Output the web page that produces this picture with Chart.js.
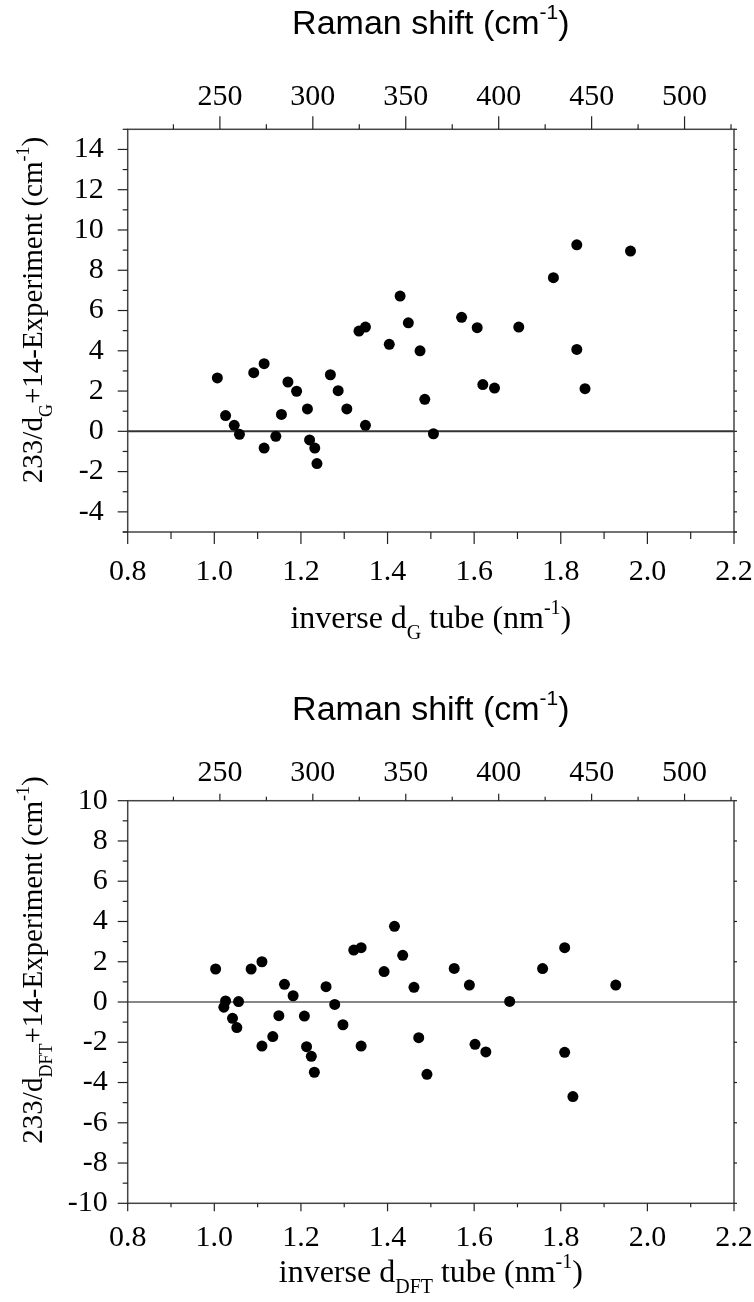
<!DOCTYPE html>
<html>
<head>
<meta charset="utf-8">
<script src="https://cdn.jsdelivr.net/npm/chart.js@4.4.1/dist/chart.umd.min.js"></script>
<style>
  html, body { margin: 0; padding: 0; background: #fff; }
  .panel { position: relative; width: 754px; height: 651px; }
  canvas { display: block; }
</style>
</head>
<body>
<div class="panel"><canvas id="chartG" width="754" height="651"></canvas></div>
<div class="panel"><canvas id="chartDFT" width="754" height="651"></canvas></div>
<script>
/* ---- data: inverse tube diameter (nm^-1) vs. 233/d+14 - experiment (cm^-1) ---- */
const invDG = [1.007, 1.026, 1.046, 1.058, 1.091, 1.115, 1.115, 1.142, 1.155, 1.170,
               1.190, 1.215, 1.220, 1.232, 1.237, 1.268, 1.286, 1.306, 1.334, 1.349,
               1.349, 1.404, 1.429, 1.448, 1.475, 1.486, 1.506, 1.571, 1.607, 1.620,
               1.647, 1.703, 1.783, 1.837, 1.837, 1.856, 1.961];
const devG  = [2.65, 0.78, 0.30, -0.15, 2.91, 3.36, -0.83, -0.25, 0.84, 2.45,
               1.99, 1.11, -0.43, -0.83, -1.60, 2.81, 2.02, 1.11, 4.98, 5.18,
               0.30, 4.32, 6.72, 5.39, 4.00, 1.59, -0.12, 5.66, 5.15, 2.32,
               2.15, 5.18, 7.63, 9.26, 4.07, 2.12, 8.95];

const invDFT = [1.003, 1.022, 1.026, 1.042, 1.052, 1.056, 1.085, 1.110, 1.110, 1.135,
                1.149, 1.162, 1.182, 1.208, 1.213, 1.224, 1.231, 1.258, 1.278, 1.297,
                1.322, 1.339, 1.339, 1.392, 1.416, 1.435, 1.461, 1.472, 1.491, 1.554,
                1.589, 1.602, 1.627, 1.682, 1.758, 1.809, 1.809, 1.828, 1.927];
const devDFT = [1.64, -0.26, 0.05, -0.81, -1.27, 0.02, 1.64, 2.00, -2.19, -1.72,
                -0.68, 0.88, 0.31, -0.70, -2.22, -2.70, -3.49, 0.76, -0.12, -1.13,
                2.58, 2.70, -2.19, 1.51, 3.76, 2.32, 0.73, -1.77, -3.59, 1.67,
                0.84, -2.10, -2.48, 0.03, 1.66, 2.70, -2.50, -4.70, 0.84];

/* ---- axes ---- */
const xTicks     = [0.8, 1.0, 1.2, 1.4, 1.6, 1.8, 2.0, 2.2];
const ramanTicks = [250, 300, 350, 400, 450, 500];
const yTicksG    = [-4, -2, 0, 2, 4, 6, 8, 10, 12, 14];
const yTicksDFT  = [-10, -8, -6, -4, -2, 0, 2, 4, 6, 8, 10];

const X_MIN = 0.8, X_MAX = 2.2;
const toRaman = v => 233 * v + 14;   // Raman shift for a given inverse diameter

const SERIF = "'Liberation Serif', 'Times New Roman', serif";
const SANS  = "'Liberation Sans', Arial, sans-serif";

// minor marks halfway between major ticks, clipped to the axis range
function minorsOf(majors, lo, hi) {
  const step = majors[1] - majors[0];
  const out = majors.map(v => v - step / 2).concat([majors[majors.length - 1] + step / 2]);
  return out.filter(v => v >= lo - 1e-9 && v <= hi + 1e-9);
}

function line(ctx, x1, y1, x2, y2) {
  ctx.beginPath(); ctx.moveTo(x1, y1); ctx.lineTo(x2, y2); ctx.stroke();
}

// text with sub/superscript pieces, centred on (cx, baseY), optionally rotated
function drawRich(ctx, parts, cx, baseY, size, family, rotate) {
  const fontOf = p => `${(p.sub || p.sup) ? Math.round(size * 0.62) : size}px ${family}`;
  let total = 0;
  const widths = parts.map(p => { ctx.font = fontOf(p); const w = ctx.measureText(p.t).width; total += w; return w; });
  ctx.save();
  ctx.translate(cx, baseY);
  if (rotate) ctx.rotate(-Math.PI / 2);
  ctx.fillStyle = '#000';
  ctx.textBaseline = 'alphabetic';
  ctx.textAlign = 'left';
  let x = -total / 2;
  parts.forEach((p, i) => {
    ctx.font = fontOf(p);
    const dy = p.sub ? size * 0.33 : p.sup ? -size * 0.45 : 0;
    ctx.fillText(p.t, x, dy);
    x += widths[i];
  });
  ctx.restore();
}

/* ---- frame, tick marks, zero line and titles ---- */
const framePlugin = {
  id: 'frame',
  beforeDatasetsDraw(chart, args, o) {
    const { ctx, chartArea: a, scales } = chart;
    const xs = scales.x, ys = scales.y, rs = scales.x2;
    ctx.save();

    // zero reference line
    ctx.strokeStyle = o.zeroColor;
    ctx.lineWidth = o.zeroWidth;
    const y0 = ys.getPixelForValue(0);
    line(ctx, a.left, y0, a.right, y0);

    // plot box
    ctx.strokeStyle = '#444';
    ctx.lineWidth = 1.5;
    ctx.strokeRect(a.left, a.top, a.right - a.left, a.bottom - a.top);

    ctx.lineWidth = 1.2;
    ctx.strokeStyle = '#222';
    // bottom axis
    o.xMajorVals.forEach(v => { const p = xs.getPixelForValue(v); line(ctx, p, a.bottom, p, a.bottom + o.xMajor); });
    o.xMinorVals.forEach(v => { const p = xs.getPixelForValue(v); line(ctx, p, a.bottom, p, a.bottom + o.xMinor); });
    // top (Raman) axis
    o.rMajorVals.forEach(v => { const p = rs.getPixelForValue(v); line(ctx, p, a.top, p, a.top - o.topMajor); });
    o.rMinorVals.forEach(v => { const p = rs.getPixelForValue(v); line(ctx, p, a.top, p, a.top - o.topMinor); });
    // left axis
    o.yMajorVals.forEach(v => { const p = ys.getPixelForValue(v); line(ctx, a.left, p, a.left - o.yMajor, p); });
    o.yMinorVals.forEach(v => { const p = ys.getPixelForValue(v); line(ctx, a.left, p, a.left - o.yMinor, p); });
    // right axis
    o.rightVals.forEach(v => { const p = ys.getPixelForValue(v); line(ctx, a.right, p, a.right + o.rightLen, p); });
    ctx.restore();
  },
  afterDraw(chart, args, o) {
    const { ctx, chartArea: a } = chart;
    const cx = (a.left + a.right) / 2;
    drawRich(ctx, [{ t: 'Raman shift (cm' }, { t: '-1', sup: true }, { t: ')' }], cx, o.ramanY, 34, SANS, false);
    drawRich(ctx, [{ t: 'inverse d' }, { t: o.sub, sub: true }, { t: ' tube (nm' }, { t: '-1', sup: true }, { t: ')' }],
             cx, o.xTitleY, 32, SERIF, false);
    drawRich(ctx, [{ t: '233/d' }, { t: o.sub, sub: true }, { t: '+14-Experiment (cm' }, { t: '-1', sup: true }, { t: ')' }],
             o.yTitleX, o.yTitleY, 29, SERIF, true);
  }
};

function makeChart(id, xs, ys, yTicks, yMin, yMax, d) {
  const tickFont = { family: SERIF, size: 30 };
  const noGrid = { display: false, drawTicks: false };
  const yMinor = minorsOf(yTicks, yMin, yMax);
  if (yMin < yTicks[0]) yMinor.unshift(yMin);
  // fixed axis boxes, no extra room for overhanging end labels
  const fixH = h => s => { s.height = h; s.paddingLeft = 0; s.paddingRight = 0; };
  return new Chart(document.getElementById(id), {
    type: 'scatter',
    data: {
      datasets: [{
        data: xs.map((x, i) => ({ x, y: ys[i] })),
        pointRadius: 5.5,
        pointHoverRadius: 5.5,
        backgroundColor: '#000',
        borderColor: '#000',
        borderWidth: 0
      }]
    },
    options: {
      responsive: false,
      animation: false,
      events: [],
      layout: { padding: { left: 0, right: 20, top: 0, bottom: 0 } },
      plugins: {
        legend: { display: false },
        tooltip: { enabled: false },
        frame: {
          sub: d.sub,
          zeroColor: d.zeroColor, zeroWidth: d.zeroWidth,
          xMajor: d.xMajor, xMinor: d.xMinor,
          topMajor: d.topMajor, topMinor: d.topMinor,
          yMajor: 10, yMinor: 5, rightLen: 3,
          xMajorVals: xTicks, xMinorVals: minorsOf(xTicks, X_MIN, X_MAX),
          rMajorVals: ramanTicks, rMinorVals: minorsOf(ramanTicks, toRaman(X_MIN), toRaman(X_MAX)),
          yMajorVals: yTicks, yMinorVals: yMinor,
          rightVals: d.rightMinor ? yTicks.concat(yMinor) : yTicks,
          ramanY: d.ramanY, xTitleY: d.xTitleY, yTitleX: 42, yTitleY: d.yTitleY
        }
      },
      scales: {
        x: {
          type: 'linear', position: 'bottom', min: X_MIN, max: X_MAX,
          afterBuildTicks: s => { s.ticks = xTicks.map(v => ({ value: v })); },
          afterFit: fixH(d.bottomH),
          ticks: { font: tickFont, color: '#000', padding: d.xPad, maxRotation: 0, autoSkip: false,
                   callback: v => v.toFixed(1) },
          grid: noGrid, border: { display: false }
        },
        x2: {
          type: 'linear', position: 'top', min: toRaman(X_MIN), max: toRaman(X_MAX),
          afterBuildTicks: s => { s.ticks = ramanTicks.map(v => ({ value: v })); },
          afterFit: fixH(d.topH),
          ticks: { font: tickFont, color: '#000', padding: d.rPad, maxRotation: 0, autoSkip: false,
                   callback: v => String(v) },
          grid: noGrid, border: { display: false }
        },
        y: {
          type: 'linear', position: 'left', min: yMin, max: yMax,
          afterBuildTicks: s => { s.ticks = yTicks.map(v => ({ value: v })); },
          afterFit: s => { s.width = 127.7; s.paddingTop = 0; s.paddingBottom = 0; },
          ticks: { font: tickFont, color: '#000', padding: d.yPad, autoSkip: false,
                   callback: v => String(v) },
          grid: noGrid, border: { display: false }
        }
      }
    },
    plugins: [framePlugin]
  });
}

makeChart('chartG', invDG, devG, yTicksG, -5, 15, {
  sub: 'G', zeroColor: '#333', zeroWidth: 2,
  xMajor: 12, xMinor: 7, topMajor: 13, topMinor: 5, rightMinor: true,
  topH: 129.3, bottomH: 119, xPad: 22, rPad: 14, yPad: 24,
  ramanY: 34, xTitleY: 628, yTitleY: 310
});

makeChart('chartDFT', invDFT, devDFT, yTicksDFT, -10, 10, {
  sub: 'DFT', zeroColor: '#111', zeroWidth: 1.2,
  xMajor: 8, xMinor: 4, topMajor: 7, topMinor: 4, rightMinor: false,
  topH: 149.7, bottomH: 98.7, xPad: 17, rPad: 10, yPad: 20,
  ramanY: 69, xTitleY: 631, yTitleY: 309
});
</script>
</body>
</html>
